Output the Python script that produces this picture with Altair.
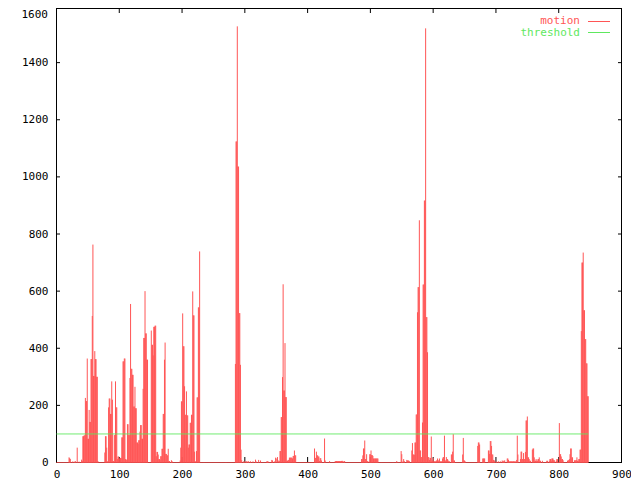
import altair as alt
import pandas as pd

# ---------------- data ----------------
N_FRAMES = 848          # frames 0 .. 847
THRESHOLD = 100

x_ticks = [0, 100, 200, 300, 400, 500, 600, 700, 800, 900]
y_ticks = [0, 200, 400, 600, 800, 1000, 1200, 1400, 1600]
y_labels = [0, 200, 400, 600, 800, 1000, 1200, 1400]

seg_020 = [18, 15, 12, 0, 0, 0, 4, 0, 0, 3, 5, 0, 0, 52, 0, 0, 3, 0, 0, 0, 10, 5]
seg_042 = [92, 92, 95, 95, 226, 215, 215, 364, 83, 83, 184, 142, 142, 362, 362, 513,
           763, 303, 303, 390, 362, 362, 300, 300, 5]
seg_077 = [35, 92, 92, 52, 4, 4, 193, 224, 224, 170, 170, 284, 220, 5, 5, 96, 96, 284,
           193, 193, 12, 21, 21, 14, 14, 16, 16, 88, 88, 354, 354, 364, 364, 12, 10, 10]
seg_113 = [134, 134, 96, 96, 296, 555, 328, 328, 307, 307, 196, 196, 265, 190, 190, 70,
           70, 65, 78, 78, 108, 131, 131, 83, 83, 258, 436, 436, 600, 452, 452, 360, 360]
seg_151 = [462, 412, 412, 375, 475, 475, 479, 479, 22, 37, 37, 28, 12, 12, 8, 22, 22, 48,
           48, 170, 170, 360, 420, 30, 30, 25, 25, 48, 5, 5, 0, 0, 8, 5]
seg_197 = [7, 52, 214, 214, 522, 407, 407, 267, 167, 167, 249, 165, 165, 52, 63, 63, 139,
           139, 167, 167, 599, 515, 515, 38, 4, 4, 40, 228, 228, 543, 543, 739]
seg_285 = [345, 1124, 1124, 1527, 1036, 1036, 523, 523, 342, 45, 8]
seg_356 = [40, 40, 159, 159, 299, 624, 252, 252, 418, 229, 229, 6, 6, 9, 9, 17, 17, 17,
           17, 17, 14, 23, 23, 42, 25, 25]
seg_411 = [49, 16, 16, 38, 25, 25, 21, 21, 5, 15, 15, 7, 0, 0, 0, 0, 84, 7]
seg_444 = [5, 5, 5, 5, 5, 5, 5, 5, 5, 5, 5, 6, 5, 0, 5, 5]
seg_486 = [12, 12, 25, 49, 49, 77, 12, 12, 29, 5, 5, 0, 0, 29, 29, 42, 26, 26, 23, 14,
           14, 14, 14, 14, 14, 14, 14]
seg_549 = [40, 29, 3, 0, 12, 5, 0, 0, 0, 9, 7, 7, 7, 5]
seg_566 = [42, 68, 28, 28, 27, 70, 70, 168, 168, 526, 614, 614, 848, 42, 42, 19, 19, 140,
           623, 623, 917, 917, 1520, 509, 509, 386, 19, 19, 9, 16, 16, 91, 7, 7, 16]
seg_601 = [4, 4, 4, 4, 7, 7, 14, 7, 7, 14, 4, 4, 4, 4, 14, 19, 19, 94, 7, 7, 19, 12, 12,
           7, 4, 4, 0, 0, 28, 28, 38, 99, 7, 7]
seg_647 = [28, 86, 7, 7, 4]
seg_671 = [58, 70, 70, 63]
seg_679 = [14, 14, 14, 14]
seg_688 = [42, 42, 30, 75, 75, 58, 28, 28, 9, 7, 7]
seg_721 = [4, 4, 4, 4, 4, 4, 4, 4, 4, 4, 4, 0, 9, 94, 28]
seg_739 = [12, 38, 38, 12, 12, 33, 12, 12, 37, 147, 147, 161, 18, 18, 12, 6, 6, 0, 0, 45,
           49, 49, 18, 6, 6, 12, 6, 6, 12, 12, 18, 6, 6, 0, 0, 6]
seg_781 = [6, 6, 0, 0, 6, 12, 12, 6, 14, 14, 14, 8, 8, 0, 0, 6, 12, 12, 0, 0, 138, 29, 29,
           21, 12, 12, 8]
seg_814 = [6, 8, 8, 12, 29, 49, 49, 18, 18, 0, 0, 8, 6, 8, 8, 18, 6, 6, 12, 12, 45, 45,
           460, 700, 700, 735, 533, 533, 432, 432, 347, 347, 232, 232]

sparse = {298: 4, 300: 4, 302: 4, 303: 4, 305: 4, 306: 4, 309: 4, 313: 4, 317: 10,
          318: 4, 322: 9, 325: 7, 335: 4, 336: 4, 337: 4, 343: 9, 344: 7, 347: 4,
          349: 17, 350: 14, 352: 19, 354: 7, 355: 5, 435: 5, 542: 5,
          701: 4, 704: 4, 707: 4, 710: 7, 711: 4, 712: 4, 713: 7, 714: 7,
          718: 14, 719: 14, 720: 9}

segments = [(20, seg_020), (42, seg_042), (77, seg_077), (113, seg_113), (151, seg_151),
            (197, seg_197), (285, seg_285), (356, seg_356), (411, seg_411), (444, seg_444),
            (486, seg_486), (549, seg_549), (566, seg_566), (601, seg_601), (647, seg_647),
            (671, seg_671), (679, seg_679), (688, seg_688), (721, seg_721), (739, seg_739),
            (781, seg_781), (814, seg_814)]

motion = [0] * N_FRAMES
for start, vals in segments:
    for i, v in enumerate(vals):
        motion[start + i] = v
for f, v in sparse.items():
    motion[f] = v

df = pd.DataFrame({
    "frame": list(range(N_FRAMES)),
    "motion": motion,
    "threshold": [THRESHOLD] * N_FRAMES,
    "zero": [0] * N_FRAMES,
})
xt_df = pd.DataFrame({"t": x_ticks})
yt_df = pd.DataFrame({"t": y_ticks})
one = pd.DataFrame({"k": [0]})

# ---------------- style ----------------
RED = "#ff5555"
GREEN = "#5ee85e"
FONT = "DejaVu Sans Mono"
FS = 11
W, H = 565, 454

x_scale = alt.Scale(domain=[0, 900], range=[0.5, W + 0.5], nice=False, zero=False)
y_scale = alt.Scale(domain=[0, 1600], range=[H + 0.5, -2.5], nice=False)

x_axis = alt.Axis(values=x_ticks, title="", grid=False, domain=False, ticks=False,
                  tickSize=0, labelPadding=6, labelFont=FONT, labelFontSize=FS,
                  labelColor="black", labelFlush=False, labelOverlap=False, format="d")
y_axis = alt.Axis(values=y_labels, title="", grid=False, domain=False, ticks=False,
                  tickSize=0, labelPadding=8, labelFont=FONT, labelFontSize=FS,
                  labelColor="black", labelOverlap=False, format="d")

X = lambda f: alt.X(f, scale=x_scale, axis=x_axis)
Y = lambda f: alt.Y(f, scale=y_scale, axis=y_axis)

# frame border
border_l = alt.Chart(one).mark_rule(color="black", strokeWidth=1).encode(
    x=alt.value(0.5), y=alt.value(0), y2=alt.value(H + 1))
border_r = alt.Chart(one).mark_rule(color="black", strokeWidth=1).encode(
    x=alt.value(W + 0.5), y=alt.value(0), y2=alt.value(H + 1))
border_t = alt.Chart(one).mark_rule(color="black", strokeWidth=1).encode(
    y=alt.value(0.5), x=alt.value(0), x2=alt.value(W + 1))
border_b = alt.Chart(one).mark_rule(color="black", strokeWidth=1).encode(
    y=alt.value(H + 0.5), x=alt.value(0), x2=alt.value(W + 1))

# inward ticks (mirrored)
ytick_l = alt.Chart(yt_df).mark_rule(color="black").encode(
    y=Y("t:Q"), x=alt.value(0), x2=alt.value(4))
ytick_r = alt.Chart(yt_df).mark_rule(color="black").encode(
    y=Y("t:Q"), x=alt.value(W - 3), x2=alt.value(W + 1))
xtick_b = alt.Chart(xt_df).mark_rule(color="black").encode(
    x=X("t:Q"), y=alt.value(H - 5), y2=alt.value(H + 1))
xtick_t = alt.Chart(xt_df).mark_rule(color="black").encode(
    x=X("t:Q"), y=alt.value(0), y2=alt.value(5))

# motion impulses
impulses = alt.Chart(df).mark_rule(color=RED, strokeWidth=1).encode(
    x=X("frame:Q"), y=Y("motion:Q"), y2=alt.Y2("zero:Q"))
baseline = alt.Chart(df).mark_line(color=RED, strokeWidth=1).encode(
    x=X("frame:Q"), y=Y("zero:Q"))
thresh = alt.Chart(df).mark_line(color=GREEN, strokeWidth=1).encode(
    x=X("frame:Q"), y=Y("threshold:Q"))

# top label 1600 (plot top sits at the page margin)
top_label = alt.Chart(one).mark_text(font=FONT, fontSize=FS, align="right",
                                     baseline="middle", color="black").encode(
    x=alt.value(-8), y=alt.value(7), text=alt.value("1600"))

# key
key_m_t = alt.Chart(one).mark_text(font=FONT, fontSize=FS, align="right",
                                   baseline="middle", color=RED).encode(
    x=alt.value(524), y=alt.value(13), text=alt.value("motion"))
key_t_t = alt.Chart(one).mark_text(font=FONT, fontSize=FS, align="right",
                                   baseline="middle", color=GREEN).encode(
    x=alt.value(524), y=alt.value(25), text=alt.value("threshold"))
key_m_l = alt.Chart(one).mark_rule(color=RED).encode(
    x=alt.value(532), x2=alt.value(554), y=alt.value(13.5))
key_t_l = alt.Chart(one).mark_rule(color=GREEN).encode(
    x=alt.value(532), x2=alt.value(554), y=alt.value(24.5))

chart = alt.layer(
    border_l, border_r, border_t, border_b,
    ytick_l, ytick_r, xtick_b, xtick_t,
    impulses, baseline, thresh,
    top_label, key_m_t, key_t_t, key_m_l, key_t_l,
).properties(
    width=W, height=H,
    autosize=alt.AutoSizeParams(type="none"),
    padding={"left": 48, "top": 0, "right": 10, "bottom": 20},
    background="white",
).configure_view(strokeWidth=0)

chart.save("out.html", embed_options={"renderer": "svg", "actions": False})
